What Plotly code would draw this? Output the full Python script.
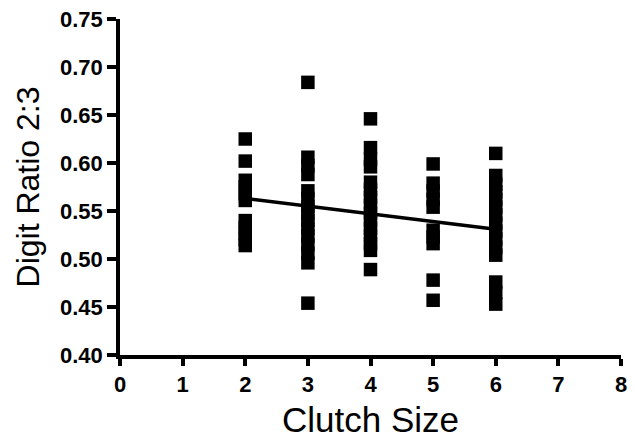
import plotly.graph_objects as go

clutch_sizes = [2, 3, 4, 5, 6]
ratios_2 = [0.625, 0.602, 0.582, 0.575, 0.568, 0.561, 0.540, 0.533, 0.527, 0.520, 0.514]
ratios_3 = [0.684, 0.606, 0.597, 0.588, 0.571, 0.563, 0.555, 0.547, 0.540, 0.532, 0.524, 0.515, 0.506, 0.496, 0.454]
ratios_4 = [0.646, 0.616, 0.604, 0.596, 0.580, 0.572, 0.564, 0.556, 0.548, 0.540, 0.532, 0.524, 0.516, 0.509, 0.489]
ratios_5 = [0.599, 0.579, 0.571, 0.562, 0.554, 0.530, 0.523, 0.516, 0.478, 0.457]
ratios_6 = [0.610, 0.587, 0.578, 0.570, 0.562, 0.554, 0.546, 0.537, 0.529, 0.521, 0.512, 0.504, 0.476, 0.465, 0.453]
fit_x = [2, 6]
fit_y = [0.563, 0.531]
x_ticks = [0, 1, 2, 3, 4, 5, 6, 7, 8]
y_ticks = [0.40, 0.45, 0.50, 0.55, 0.60, 0.65, 0.70, 0.75]

groups = [ratios_2, ratios_3, ratios_4, ratios_5, ratios_6]
xs, ys = [], []
for c, vals in zip(clutch_sizes, groups):
    xs += [c] * len(vals)
    ys += vals

fig = go.Figure()
fig.add_trace(go.Scatter(x=xs, y=ys, mode="markers",
                         marker=dict(symbol="square", size=13.5, color="black", line=dict(width=0)),
                         showlegend=False))
fig.add_trace(go.Scatter(x=fit_x, y=fit_y, mode="lines",
                         line=dict(color="black", width=3.5), showlegend=False))

font_tick = dict(family="Liberation Sans, Arial", size=22, color="black")
fig.update_layout(
    width=634, height=447,
    margin=dict(l=120, r=7, t=17, b=92),
    plot_bgcolor="white", paper_bgcolor="white",
    xaxis=dict(range=[0, 8], tickvals=x_ticks, ticktext=[f"<b>{v}</b>" for v in x_ticks],
               showgrid=False, zeroline=False, showline=True, linecolor="black", linewidth=3.5,
               ticks="outside", ticklen=7, tickwidth=3.5, tickcolor="black",
               tickfont=font_tick,
               title=dict(text="Clutch Size", font=dict(family="Liberation Sans, Arial", size=35, color="black"), standoff=12)),
    yaxis=dict(range=[0.40, 0.75], tickvals=y_ticks, ticktext=[f"<b>{v:.2f}</b>" for v in y_ticks],
               showgrid=False, zeroline=False, showline=True, linecolor="black", linewidth=3.5,
               ticks="outside", ticklen=9, tickwidth=3.5, tickcolor="black",
               tickfont=font_tick,
               title=dict(text="Digit Ratio 2:3", font=dict(family="Liberation Sans, Arial", size=32, color="black"), standoff=12)),
)
fig.write_html("out.html")
